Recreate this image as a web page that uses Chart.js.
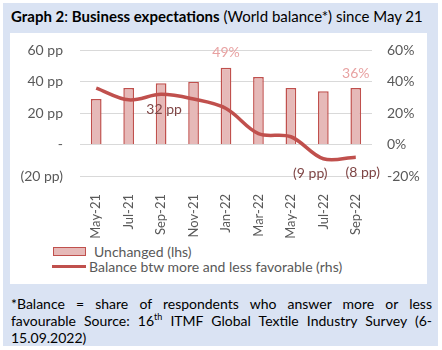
<!DOCTYPE html>
<html><head><meta charset="utf-8">
<script src="https://cdn.jsdelivr.net/npm/chart.js@4/dist/chart.umd.min.js"></script>
<style>
html,body{margin:0;padding:0;background:#fff;width:442px;height:350px;overflow:hidden;font-family:Lato,"Open Sans",sans-serif;}
#outer{position:absolute;left:3px;top:3px;width:435px;height:343px;background:#dae3f3;}
#title{position:absolute;left:11px;top:7px;font-size:15px;color:#000;white-space:nowrap;}
#panel{position:absolute;left:10px;top:33px;width:417px;height:251px;background:#fff;}
#cv{position:absolute;left:0;top:-8px;}
.leg{position:absolute;font-size:14px;color:#595959;white-space:nowrap;line-height:16px;}
#note{position:absolute;left:11px;top:295px;width:421px;font-size:14px;line-height:17px;color:#000;text-align:justify;}
sup{font-size:9px;line-height:0;}
</style></head>
<body>
<div id="outer"></div>
<div id="title"><b>Graph 2</b>: <b>Business expectations</b> (World balance*) since May 21</div>
<div id="panel">
  <canvas id="cv" width="417" height="213"></canvas>
  <div class="leg" style="left:43px;top:214px;width:31px;height:7px;background:#e6b9b8;border:1px solid #c0504d;"></div>
  <div class="leg" style="left:84px;top:211px;">Unchanged (lhs)</div>
  <div class="leg" style="left:42px;top:232px;width:34px;height:3px;background:#c0504d;"></div>
  <div class="leg" style="left:79px;top:226px;">Balance btw more and less favorable (rhs)</div>
</div>
<div id="note">*Balance = share of respondents who answer more or less favourable Source: 16<sup>th</sup> ITMF Global Textile Industry Survey (6-15.09.2022)</div>
<script>
const categories = ["May-21","Jul-21","Sep-21","Nov-21","Jan-22","Mar-22","May-22","Jul-22","Sep-22"];
const unchanged = [29, 36, 39, 40, 49, 43, 36, 34, 36];
const balance = [36, 28.5, 32, 29, 23, 7, 5, -9, -8];
const leftTicks = [-20, 0, 20, 40, 60];
const barLabelIdx = [4, 8];
const lineLabelIdx = [2, 7, 8];

const fmtLeft = v => v === 0 ? "-" : (v < 0 ? "(" + (-v) + " pp)" : v + " pp");
const fmtRight = v => v + "%";
const fmtLine = v => v < 0 ? "(" + (-v) + " pp)" : v + " pp";

const lineLabelShift = {2: 3, 7: -13, 8: 7};

const labelPlugin = {
  id: 'dl',
  afterDatasetsDraw(chart) {
    const ctx = chart.ctx;
    ctx.save();
    ctx.font = '14px Lato, "Open Sans", sans-serif';
    ctx.textAlign = 'center';
    ctx.textBaseline = 'middle';
    const barMeta = chart.getDatasetMeta(0);
    ctx.fillStyle = '#e8a2a2';
    barLabelIdx.forEach(i => {
      const el = barMeta.data[i];
      ctx.fillText(fmtRight(unchanged[i]), el.x, el.y - 15);
    });
    const lineMeta = chart.getDatasetMeta(1);
    ctx.fillStyle = '#7f4545';
    lineLabelIdx.forEach(i => {
      const el = lineMeta.data[i];
      ctx.fillText(fmtLine(balance[i]), el.x + (lineLabelShift[i] || 0), el.y + 15);
    });
    ctx.restore();
  }
};

const tickFont = {family: 'Lato, "Open Sans", sans-serif', size: 14};
new Chart(document.getElementById('cv'), {
  data: {
    labels: categories,
    datasets: [
      {type: 'bar', label: 'Unchanged (lhs)', data: unchanged, yAxisID: 'y',
       backgroundColor: '#e6b9b8', borderColor: '#c0504d', borderWidth: 1.5,
       categoryPercentage: 1, barPercentage: 0.33, order: 2},
      {type: 'line', label: 'Balance btw more and less favorable (rhs)', data: balance, yAxisID: 'y1',
       borderColor: '#c0504d', borderWidth: 3.5, pointRadius: 0, tension: 0.35, fill: false, order: 1}
    ]
  },
  options: {
    responsive: false, animation: false,
    layout: {padding: {top: 9, left: 0, right: 0, bottom: 0}},
    plugins: {legend: {display: false}, tooltip: {enabled: false}},
    scales: {
      x: {
        grid: {display: false}, border: {display: false},
        ticks: {color: '#595959', font: {family: tickFont.family, size: 13}, minRotation: 90, maxRotation: 90, padding: 10},
        afterFit: s => { s.height = 62; }
      },
      y: {
        position: 'left', min: -20, max: 60,
        afterBuildTicks: s => { s.ticks = leftTicks.map(v => ({value: v})); },
        grid: {color: '#d9d9d9', lineWidth: 1, drawTicks: false}, border: {display: false},
        ticks: {color: '#595959', font: tickFont, padding: 17, callback: v => fmtLeft(v)},
        afterFit: s => { s.width = 70; }
      },
      y1: {
        position: 'right', min: -20, max: 60,
        afterBuildTicks: s => { s.ticks = leftTicks.map(v => ({value: v})); },
        grid: {display: false, drawTicks: false}, border: {display: false},
        ticks: {color: '#595959', font: tickFont, padding: 15, callback: v => fmtRight(v)},
        afterFit: s => { s.width = 55; }
      }
    }
  },
  plugins: [labelPlugin]
});
</script>
</body></html>
